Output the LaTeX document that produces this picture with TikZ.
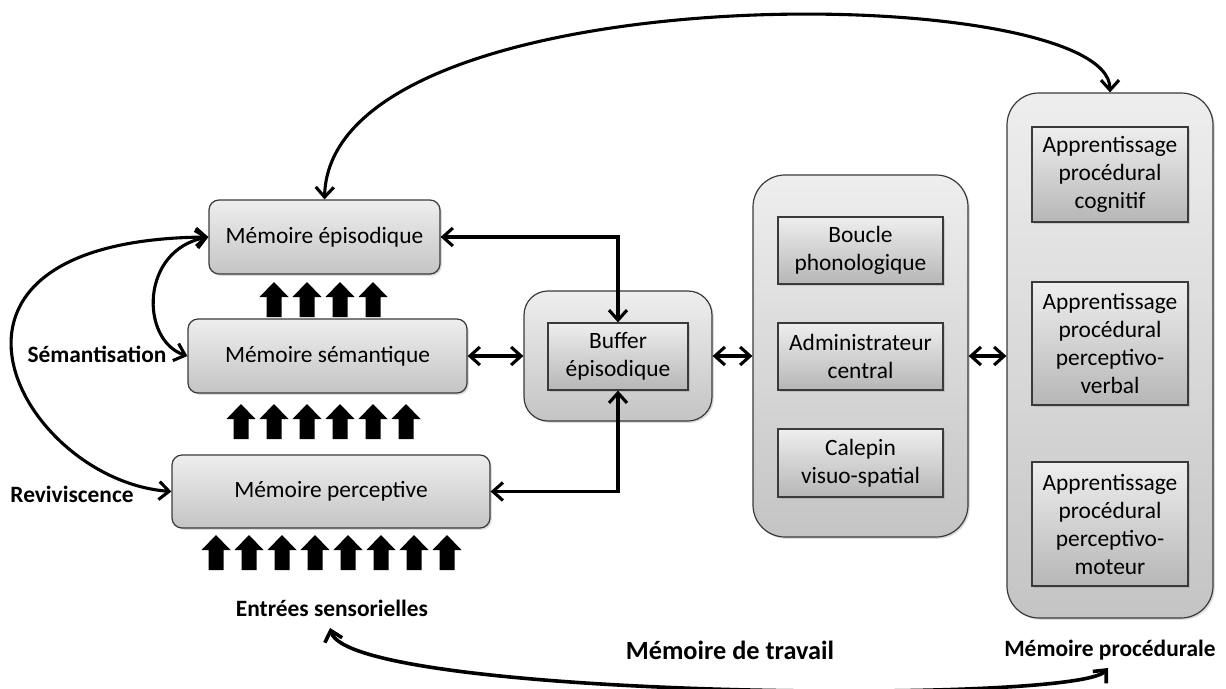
\documentclass[tikz,border=0pt]{standalone}
\usepackage{fontspec}
\setmainfont{Carlito}
\usetikzlibrary{arrows.meta,shadows}
\definecolor{edge}{HTML}{3A3A3A}
\definecolor{gtop}{HTML}{EEEEEE}
\definecolor{gbot}{HTML}{C4C4C4}
\definecolor{ibot}{HTML}{B6B6B6}

\begin{document}
\begin{tikzpicture}[x=1pt,y=-1pt,
  >={Straight Barb[length=10pt,width=18pt]},
  conn/.style={line width=3.1pt,<->},
  txt/.style={font=\fontsize{23.4}{28}\selectfont, align=center},
  lbl/.style={font=\fontsize{23.4}{28}\selectfont\bfseries, inner sep=0pt},
  sz/.style 2 args={minimum width=#1pt, minimum height=#2pt},
  shade/.style={drop shadow={shadow xshift=1.8pt, shadow yshift=-1.8pt, opacity=0.28}},
  memo/.style={draw=edge, line width=1.2pt, rounded corners=10pt,
    top color=gtop, bottom color=gbot, txt, inner sep=0pt, shade},
  panel/.style={memo, rounded corners=#1},
  unit/.style={draw=edge, line width=1.2pt, top color=gtop, bottom color=ibot,
    txt, inner sep=0pt, shade},
  upblk/.pic={\fill (-7.5,0) -- (-7.5,-20) -- (-14.5,-20) -- (0,-35)
    -- (14.5,-20) -- (7.5,-20) -- (7.5,0) -- cycle;}
]
\useasboundingbox (0,0) rectangle (1226,688);

% long-term memory systems
\node[memo, sz={231}{74}] (epi) at (324.5,237) {Mémoire épisodique};
\node[memo, sz={279}{74}] (sem) at (327.5,356) {Mémoire sémantique};
\node[memo, sz={318}{73}] (per) at (331,491.5) {Mémoire perceptive};

% episodic buffer
\node[panel=24pt, sz={188}{130}] (bufO) at (618,356) {};
\node[unit, sz={140}{67}] (buf) at (618,356.5) {Buffer\\épisodique};

% working memory
\node[panel=32pt, sz={215}{362}] (wm) at (860.5,356) {};
\node[unit, sz={165}{67}] (boucle) at (860.5,250.5) {Boucle\\phonologique};
\node[unit, sz={165}{67}] (admin) at (860.5,356.5) {Administrateur\\central};
\node[unit, sz={165}{68}] (calepin) at (860.5,463) {Calepin\\visuo-spatial};

% procedural memory
\node[panel=32pt, sz={206}{525}] (proc) at (1110,355.5) {};
\node[unit, sz={156}{95}] (pc1) at (1110,174.5) {Apprentissage\\procédural\\cognitif};
\node[unit, sz={156}{123}] (pc2) at (1110,343.5) {Apprentissage\\procédural\\perceptivo-\\verbal};
\node[unit, sz={156}{124}] (pc3) at (1110,524) {Apprentissage\\procédural\\perceptivo-\\moteur};

% block arrows between levels
\foreach \x in {274,307,340,373} \pic at (\x,317) {upblk};
\foreach \x in {241,274,307,340,373,406} \pic at (\x,439) {upblk};
\foreach \x in {216,249,282,315,348,381,414,447} \pic at (\x,570) {upblk};

% labels
\node[lbl] (semlbl) at (97,354) {Sémantisation};
\node[lbl] (revlbl) at (72,494) {Reviviscence};
\node[lbl] (entlbl) at (332,608) {Entrées sensorielles};
\node[lbl, font=\fontsize{26.3}{30}\selectfont\bfseries] (wmlbl) at (730,650) {Mémoire de travail};
\node[lbl] (proclbl) at (1110,650) {Mémoire procédurale};

% connectors
\draw[conn] (epi.east) -| (buf.north);
\draw[conn] (per.east) -| (buf.south);
\draw[conn] (sem.east) -- (bufO.west);
\draw[conn] (bufO.east) -- (wm.west);
\draw[conn] (wm.east) -- (proc.west |- wm.east);

\draw[conn] (epi.west) .. controls (140,250) and (140,340) .. (sem.west);
\draw[conn] (epi.west) .. controls (-110,240) and (20,480) .. (per.west);

\draw[conn] (epi.north) .. controls (330,-30) and (1110,-20) .. (proc.north);

\coordinate (es) at (330,628);
\coordinate (mp) at (1108,668);
\draw[conn, line width=3.6pt] (es) .. controls (350,698) and (1075,705) .. (mp);
\end{tikzpicture}
\end{document}
